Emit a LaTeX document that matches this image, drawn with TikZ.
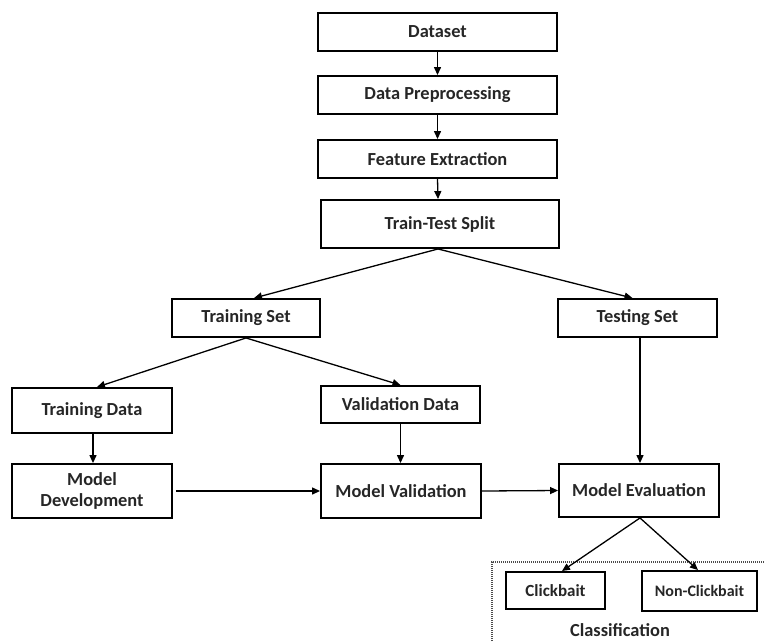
\documentclass[tikz,border=0pt]{standalone}
\usepackage{fontspec}
\setmainfont{Carlito}
\usetikzlibrary{arrows.meta}
\begin{document}
\begin{tikzpicture}[x=1pt,y=-1pt,
  box/.style={draw=black,line width=1.9pt,fill=white,inner sep=0pt,align=center,
    font=\fontsize{18.4}{21}\selectfont\bfseries,text=black!85},
  flow/.style={line width=1.3pt,-{Triangle[length=8pt,width=7pt]}},
  groupline/.style={draw=black!70,line width=1.1pt,dash pattern=on 1pt off 1pt}]
\useasboundingbox (0,0) rectangle (765,641);
\fill[white] (0,0) rectangle (765,641);

% main pipeline
\node[box,minimum width=239pt,minimum height=38pt] (ds)  at (437.5,32)  {Dataset};
\node[box,minimum width=239pt,minimum height=38pt] (pre) at (437.5,95)  {Data Preprocessing};
\node[box,minimum width=239pt,minimum height=38pt] (fe)  at (437.5,159) {Feature Extraction};
\node[box,minimum width=238pt,minimum height=48pt] (tts) at (440,224)   {Train-Test Split};

% split branches
\node[box,minimum width=148pt,minimum height=38pt] (trs) at (246,318)   {Training Set};
\node[box,minimum width=159pt,minimum height=38pt] (tes) at (637.5,318) {Testing Set};
\node[box,minimum width=160pt,minimum height=45pt] (trd) at (92,410.5)  {Training Data};
\node[box,minimum width=159pt,minimum height=37pt] (vd)  at (400.5,404.5) {Validation Data};

% modelling stages
\node[box,minimum width=160pt,minimum height=54pt] (md) at (92,491)    {Model\\Development};
\node[box,minimum width=160pt,minimum height=54pt] (mv) at (401,491)   {Model Validation};
\node[box,minimum width=160pt,minimum height=53pt] (me) at (639,490.5) {Model Evaluation};

% classification group
\draw[groupline] (492,645) -- (492,562) -- (770,562);
\node[box,minimum width=99pt,minimum height=37pt,font=\fontsize{17}{20}\selectfont\bfseries] (cb) at (555.5,590.5) {Clickbait};
\node[box,minimum width=115pt,minimum height=40pt,font=\fontsize{16}{19}\selectfont\bfseries] (ncb) at (699.5,591) {Non-Clickbait};
\node[font=\fontsize{18.4}{21}\selectfont\bfseries,text=black!85] (cls) at (620,630) {Classification};

% connectors
\draw[flow] (ds.south) -- (pre.north);
\draw[flow] (pre.south) -- (fe.north);
\draw[flow] (fe.south) -- ([xshift=-2pt]tts.north);
\draw[flow] ([xshift=-2pt]tts.south) -- ([xshift=8pt]trs.north);
\draw[flow] ([xshift=-2pt]tts.south) -- ([xshift=-5pt]tes.north);
\draw[flow] (trs.south) -- ([xshift=5pt]trd.north);
\draw[flow] (trs.south) -- (vd.north);
\draw[flow] ([xshift=1pt]trd.south) -- ([xshift=1pt]md.north);
\draw[flow] (vd.south) -- ([xshift=-0.5pt]mv.north);
\draw[flow] ([xshift=2.5pt]tes.south) -- ([xshift=1pt]me.north);
\draw[flow] ([xshift=3pt]md.east) -- (mv.west);
\draw[flow] (mv.east) -- (me.west);
\draw[flow] ([xshift=1pt]me.south) -- ([xshift=6.5pt]cb.north);
\draw[flow] ([xshift=1pt]me.south) -- ([xshift=-1.5pt]ncb.north);
\end{tikzpicture}
\end{document}
